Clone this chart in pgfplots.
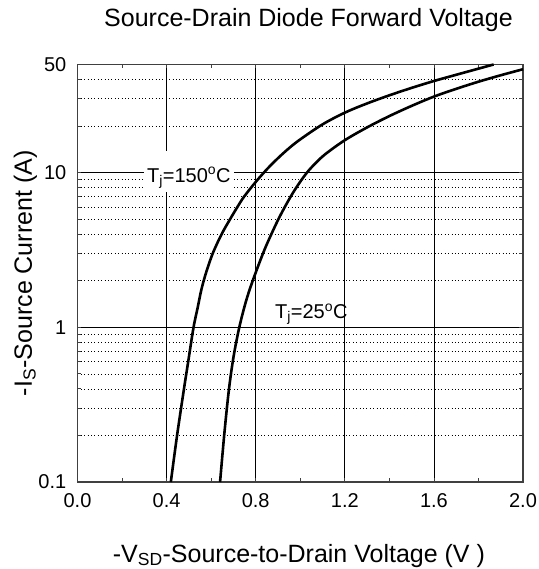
\documentclass[border=0pt]{standalone}
\usepackage{fontspec}
\setmainfont{Liberation Sans}
\usepackage{pgfplots}
\pgfplotsset{compat=1.18}

\begin{document}
\begin{tikzpicture}
\begin{axis}[
    name=ax,
    scale only axis,
    width=445.5bp, height=417.5bp,
    xmin=0, xmax=2, ymin=0.1, ymax=50,
    ymode=log,
    clip=false,
    xtick={0,0.4,0.8,1.2,1.6,2.0},
    xticklabels={0.0,0.4,0.8,1.2,1.6,2.0},
    minor xtick={0.2,0.6,1.0,1.4,1.8},
    ytick={0.1,1,10,50},
    yticklabels={0.1,1,10,50},
    minor ytick={0.2,0.3,0.4,0.5,0.6,0.7,0.8,0.9,2,3,4,5,6,7,8,9,20,30,40},
    xmajorgrids, ymajorgrids, yminorgrids,
    major grid style={black, line width=0.7bp},
    minor grid style={black, line width=0.7bp, dash pattern=on 1bp off 2.4bp},
    axis line style={black!75, line width=1.2bp},
    tick align=inside,
    major tick length=4bp, minor tick length=4bp,
    tick style={black!75, line width=0.8bp},
    tick label style={font=\fontsize{20bp}{24bp}\selectfont},
    /pgf/number format/assume math mode=true,
    xticklabel style={anchor=base, yshift=-25bp},
    yticklabel style={anchor=east, inner sep=0pt, xshift=-11bp},
]
% Tj = 150 C
\addplot[black, line width=2.6bp, smooth, tension=0.55] coordinates {
(0.419,0.1) (0.447,0.2) (0.478,0.4) (0.497,0.6) (0.521,1) (0.540,1.35)
(0.556,1.75) (0.577,2.25) (0.607,3) (0.647,4) (0.685,5) (0.718,6) (0.748,7)
(0.800,8.7) (0.850,10.5) (0.900,12.4) (0.950,14.4) (1.000,16.4) (1.1,20.5)
(1.2,24.4) (1.3,28.0) (1.4,31.6) (1.5,35.3) (1.6,39.1) (1.7,42.9) (1.8,47.0)
(1.868,50)
};
% Tj = 25 C
\addplot[black, line width=2.6bp, smooth, tension=0.55] coordinates {
(0.640,0.1) (0.660,0.211) (0.680,0.398) (0.700,0.638) (0.725,0.98)
(0.755,1.45) (0.785,1.97) (0.835,3.06) (0.875,4.14) (0.910,5.27) (0.953,6.84)
(0.990,8.32) (1.03,10) (1.07,11.56) (1.115,13.25) (1.2,16.2) (1.3,19.6)
(1.4,23.2) (1.5,27.0) (1.6,31.0) (1.7,34.8) (1.8,38.7) (1.9,42.6) (2.0,46.6)
};

\node[anchor=base west, fill=white, inner xsep=3bp, inner ysep=0pt,
      text height=31bp, text depth=10bp, font=\fontsize{20bp}{24bp}\selectfont]
      at (axis cs:0.298,8.69) {T\textsubscript{j}=150\textsuperscript{o}C};
\node[anchor=base west, inner sep=0pt, font=\fontsize{20bp}{24bp}\selectfont]
      at (axis cs:0.886,1.14) {T\textsubscript{j}=25\textsuperscript{o}C};

\node[anchor=base, font=\fontsize{25bp}{30bp}\selectfont]
      at ([yshift=37.5bp]rel axis cs:0.5185,1) {Source-Drain Diode Forward Voltage};
\node[anchor=base, font=\fontsize{25bp}{30bp}\selectfont]
      at ([yshift=-80bp]rel axis cs:0.497,0) {-V\textsubscript{SD}-Source-to-Drain Voltage (V )};
\node[anchor=base, rotate=90, font=\fontsize{25bp}{30bp}\selectfont]
      at ([xshift=-45.5bp]rel axis cs:0,0.5) {-I\textsubscript{S}-Source Current (A)};
\end{axis}
\pgfresetboundingbox
\path ([shift={(-77.5bp,-87bp)}]ax.south west) rectangle ([shift={(16bp,64.5bp)}]ax.north east);
\end{tikzpicture}
\end{document}
